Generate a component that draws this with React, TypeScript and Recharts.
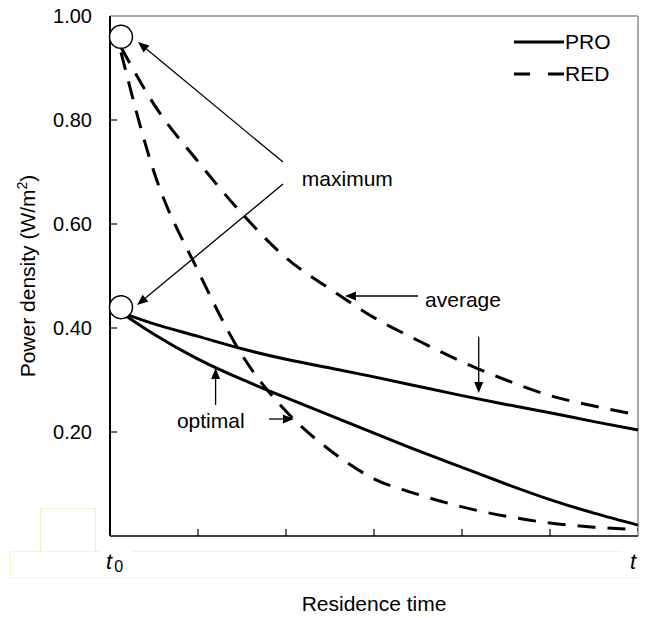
import React from 'react';
import { LineChart, Line, XAxis, YAxis, ReferenceLine, ReferenceDot, Legend } from 'recharts';

// residence time steps (t0 = 0 ... t = 6) and power density in W/m2
const timeSteps = [0.125, 0.5, 1, 1.5, 2, 2.5, 3, 3.5, 4, 4.5, 5, 5.5, 6];
const proAverage = [0.43, 0.408, 0.384, 0.36, 0.34, 0.323, 0.306, 0.288, 0.27, 0.253, 0.237, 0.22, 0.204];
const proOptimal = [0.43, 0.388, 0.34, 0.301, 0.266, 0.232, 0.198, 0.164, 0.132, 0.1, 0.07, 0.044, 0.021];
const redAverage = [0.94, 0.83, 0.72, 0.62, 0.535, 0.475, 0.42, 0.376, 0.335, 0.3, 0.27, 0.25, 0.233];
const redOptimal = [0.93, 0.7, 0.51, 0.348, 0.24, 0.165, 0.11, 0.08, 0.056, 0.038, 0.025, 0.017, 0.012];

const maximumPoints = [
  { t: 0.125, value: 0.96 },
  { t: 0.125, value: 0.44 },
];

const yTicks = [0.2, 0.4, 0.6, 0.8, 1.0];
const xTicks = [0, 1, 2, 3, 4, 5, 6];

const legendItems = [
  { name: 'PRO', dash: undefined },
  { name: 'RED', dash: '16 18' },
];

// annotation arrows, in (time, power density) units
const arrows = [
  { from: { x: 1.966, y: 0.719 }, to: { x: 0.318, y: 0.95 } },
  { from: { x: 1.966, y: 0.677 }, to: { x: 0.307, y: 0.444 } },
  { from: { x: 3.5, y: 0.4615 }, to: { x: 2.67, y: 0.4615 } },
  { from: { x: 4.19, y: 0.383 }, to: { x: 4.19, y: 0.275 } },
  { from: { x: 1.807, y: 0.225 }, to: { x: 2.09, y: 0.225 } },
  { from: { x: 1.2, y: 0.252 }, to: { x: 1.2, y: 0.323 } },
];

const notes = [
  { text: 'maximum', x: 2.18, y: 0.688 },
  { text: 'average', x: 3.58, y: 0.454 },
  { text: 'optimal', x: 0.76, y: 0.221 },
];

const data = timeSteps.map((t, i) => ({
  t,
  proAverage: proAverage[i],
  proOptimal: proOptimal[i],
  redAverage: redAverage[i],
  redOptimal: redOptimal[i],
}));

const X_TICK_MARGIN = 20;
const Y_TICK_MARGIN = 18;
const FONT = 21;

const XTick = (props: any) => {
  const { x, y, payload } = props;
  const axisY = y - X_TICK_MARGIN;
  const v = payload.value;
  return (
    <g>
      {v > 0 && v < 6 && <line x1={x} x2={x} y1={axisY} y2={axisY - 7} stroke="#000" strokeWidth={1.2} />}
      {v === 0 && (
        <g>
          <rect x={x - 10} y={axisY + 15} width={32} height={26} fill="#fff" />
          <text x={x - 4} y={axisY + 33} fontSize={22} fontStyle="italic" fill="#000">
            t<tspan fontSize={16} fontStyle="normal" dx={2} dy={3}>0</tspan>
          </text>
        </g>
      )}
      {v === 6 && (
        <g>
          <rect x={x - 16} y={axisY + 15} width={25} height={26} fill="#fff" />
          <text x={x - 2} y={axisY + 33} fontSize={22} fontStyle="italic" textAnchor="end" fill="#000">
            t
          </text>
        </g>
      )}
    </g>
  );
};

const YTick = (props: any) => {
  const { x, y, payload } = props;
  const axisX = x + Y_TICK_MARGIN;
  return (
    <g>
      {payload.value < 1 && <line x1={axisX} x2={axisX + 7} y1={y} y2={y} stroke="#000" strokeWidth={1.2} />}
      <text x={x} y={y} dy="0.35em" textAnchor="end" fontSize={20} fill="#000">
        {payload.value.toFixed(2)}
      </text>
    </g>
  );
};

const YLabel = (props: any) => {
  const { viewBox } = props;
  const cx = 20;
  const cy = viewBox.y + viewBox.height / 2;
  return (
    <text
      x={cx}
      y={cy}
      dy="0.35em"
      textAnchor="middle"
      fontSize={FONT}
      fill="#000"
      transform={`rotate(-90, ${cx}, ${cy})`}
    >
      Power density (W/m<tspan fontSize={14} dy={-8}>2</tspan>
      <tspan dy={8}>)</tspan>
    </text>
  );
};

const XLabel = (props: any) => {
  const { viewBox } = props;
  return (
    <text x={viewBox.x + viewBox.width / 2} y={viewBox.y + 75} textAnchor="middle" fontSize={FONT} fill="#000">
      Residence time
    </text>
  );
};

const Arrow = (props: any) => {
  const { x1, y1, x2, y2 } = props;
  const ang = Math.atan2(y2 - y1, x2 - x1);
  const len = 11;
  const half = 4.5;
  const bx = x2 - len * Math.cos(ang);
  const by = y2 - len * Math.sin(ang);
  const p1 = `${bx + half * Math.sin(ang)},${by - half * Math.cos(ang)}`;
  const p2 = `${bx - half * Math.sin(ang)},${by + half * Math.cos(ang)}`;
  return (
    <g>
      <line x1={x1} y1={y1} x2={bx} y2={by} stroke="#000" strokeWidth={1.3} />
      <polygon points={`${x2},${y2} ${p1} ${p2}`} fill="#000" />
    </g>
  );
};

const renderLegend = () => (
  <svg width={120} height={60}>
    {legendItems.map((item, i) => (
      <g key={item.name} transform={`translate(0, ${12 + i * 32})`}>
        <line x1={0} x2={50} y1={0} y2={0} stroke="#000" strokeWidth={3} strokeDasharray={item.dash} />
        <text x={51} y={0} dy="0.35em" fontSize={FONT} fill="#000">
          {item.name}
        </text>
      </g>
    ))}
  </svg>
);

const boxStyle: React.CSSProperties = {
  position: 'absolute',
  border: '1px solid #f7f1c4',
  boxSizing: 'border-box',
};

export default function App() {
  return (
    <div style={{ position: 'relative', width: 642, height: 610, fontFamily: '"Liberation Sans", Arial, sans-serif' }}>
      <div style={{ ...boxStyle, left: 32, top: 500, width: 56, height: 44 }} />
      <div style={{ ...boxStyle, left: 2, top: 543, width: 638, height: 27 }} />
      <div style={{ position: 'relative', zIndex: 1 }}>
        <LineChart width={642} height={610} data={data} margin={{ top: 8, right: 12, bottom: 22, left: 0 }}>
          <XAxis
            dataKey="t"
            type="number"
            domain={[0, 6]}
            ticks={xTicks}
            interval={0}
            tickLine={false}
            tickSize={0}
            tickMargin={X_TICK_MARGIN}
            tick={<XTick />}
            height={60}
            axisLine={{ stroke: '#404040', strokeWidth: 2 }}
            label={<XLabel />}
          />
          <YAxis
            type="number"
            domain={[0, 1]}
            ticks={yTicks}
            interval={0}
            tickLine={false}
            tickSize={0}
            tickMargin={Y_TICK_MARGIN}
            tick={<YTick />}
            width={102}
            axisLine={{ stroke: '#000', strokeWidth: 2 }}
            label={<YLabel />}
          />
          <ReferenceLine y={1} stroke="#8c8c8c" strokeWidth={1.5} />
          <ReferenceLine x={6} stroke="#8c8c8c" strokeWidth={1.5} />
          <Legend
            layout="vertical"
            align="center"
            verticalAlign="middle"
            content={renderLegend}
            wrapperStyle={{ top: 22, left: 506, width: 120 }}
          />
          <Line type="natural" dataKey="proAverage" stroke="#000" strokeWidth={3} dot={false} isAnimationActive={false} />
          <Line type="natural" dataKey="proOptimal" stroke="#000" strokeWidth={3} dot={false} isAnimationActive={false} />
          <Line
            type="monotone"
            dataKey="redAverage"
            stroke="#000"
            strokeWidth={3}
            strokeDasharray="18 12"
            dot={false}
            isAnimationActive={false}
          />
          <Line
            type="monotone"
            dataKey="redOptimal"
            stroke="#000"
            strokeWidth={3}
            strokeDasharray="18 12"
            dot={false}
            isAnimationActive={false}
          />
          {arrows.map((a, i) => (
            <ReferenceLine key={`arrow-${i}`} segment={[a.from, a.to]} shape={<Arrow />} ifOverflow="visible" />
          ))}
          {notes.map((n) => (
            <ReferenceDot
              key={n.text}
              x={n.x}
              y={n.y}
              ifOverflow="visible"
              shape={(p: any) => (
                <text x={p.cx} y={p.cy} dy="0.35em" fontSize={FONT} fill="#000">
                  {n.text}
                </text>
              )}
            />
          ))}
          {maximumPoints.map((m, i) => (
            <ReferenceDot
              key={`max-${i}`}
              x={m.t}
              y={m.value}
              r={11.5}
              fill="#fff"
              stroke="#000"
              strokeWidth={1.5}
              ifOverflow="visible"
            />
          ))}
        </LineChart>
      </div>
    </div>
  );
}
